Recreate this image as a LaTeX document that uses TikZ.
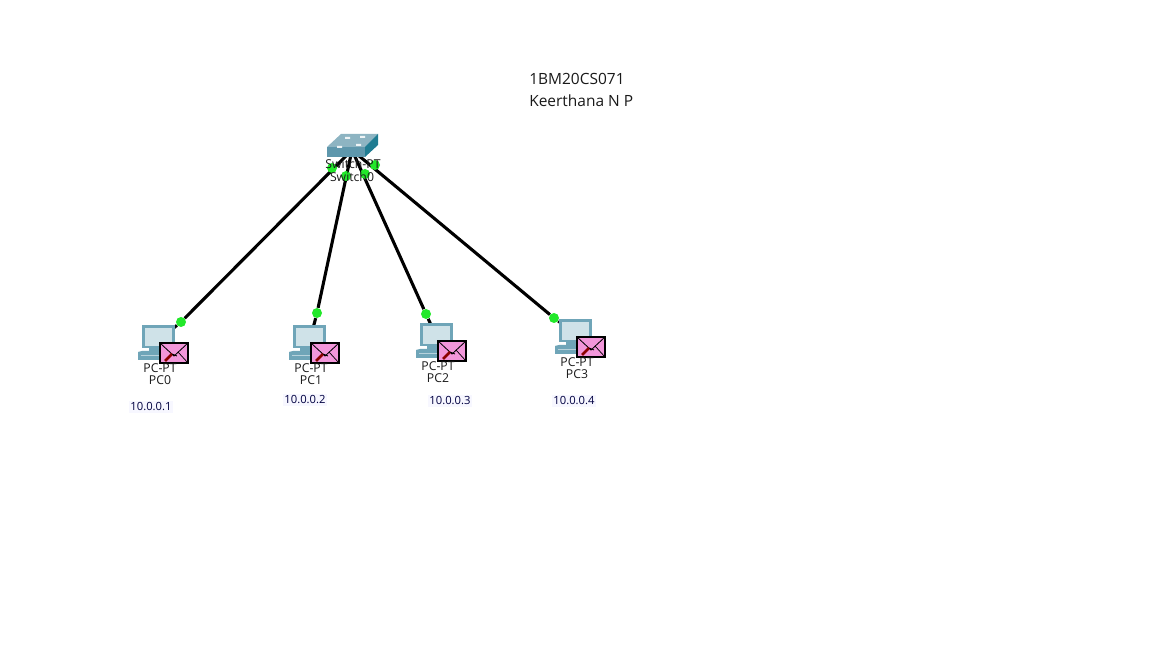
\documentclass[tikz,border=0pt]{standalone}
\usepackage{fontspec}
\setmainfont{Open Sans}
\usetikzlibrary{backgrounds}
\definecolor{linkgreen}{HTML}{22E82A}
\definecolor{mailpink}{HTML}{F296DA}
\definecolor{pcblue}{HTML}{6FA5B8}
\definecolor{pcscreen}{HTML}{CFE2E8}
\definecolor{swtop}{HTML}{8DB4C2}
\definecolor{swfront}{HTML}{5E97AC}
\definecolor{swside}{HTML}{1F7C92}

\begin{document}
\begin{tikzpicture}[x=0.025cm,y=-0.025cm]
    \tikzstyle{port}=[circle,fill=linkgreen,minimum size=0.25cm,inner sep=0pt]
    \tikzstyle{link}=[draw=black,line width=2.2pt]
    \tikzstyle{devlabel}=[font=\fontsize{8.7}{10}\selectfont,inner sep=0pt,text=black!90]
    \tikzstyle{iplabel}=[devlabel,font=\fontsize{8}{9}\selectfont,fill=blue!3,inner sep=1pt,text=blue!25!black]
    \tikzstyle{title}=[font=\fontsize{11}{12}\selectfont,anchor=west,inner sep=0pt,text=black!90]
    \tikzstyle{mail}=[draw=black,line width=0.8pt,fill=mailpink]

    \useasboundingbox (0,0) rectangle (1152,648);

    % Switch
    \fill[swtop] (327,147) -- (341,134) -- (378,134) -- (365,147) -- cycle;
    \fill[swfront] (327,147) rectangle (365,157);
    \fill[swside] (365,147) -- (378,134) -- (378,145) -- (365,157) -- cycle;
    \fill[white!85!swtop] (337,146) rectangle (342,148) (345,137) rectangle (350,139)
        (360,136) rectangle (365,138) (356,144) rectangle (361,146);
    \coordinate (Sw) at (352,150);

    % Ports on the switch side
    \foreach \name / \x / \y in {0/332/168,1/346/176,2/365/174,3/375/165}
        \node[port] (S-\name) at (\x,\y) {};

    % Draw the PCs, the corner of the envelope gives the place
    \foreach \name / \ex / \ey / \px / \py / \ipx / \ipy in
        {0/160/343/181/322/151/407,
         1/311/343/317/313/305/400,
         2/438/341/426/314/450/401,
         3/577/337/554/318/574/401}
    {
        \begin{scope}[shift={(\ex,\ey)}]
            \fill[pcblue] (-18,-18) rectangle (15,5);
            \fill[pcscreen] (-15,-15) rectangle (12,3);
            \fill[pcblue] (-11,5) rectangle (8,9);
            \fill[pcblue] (-22,9) -- (-18,8) -- (15,8) -- (17,17) -- (-22,17) -- cycle;
            \draw[white!50!pcblue] (-19,12) -- (15,12);
            \coordinate (M-\name) at (-1,-3);
        \end{scope}
        \node[port] (D-\name) at (\px,\py) {};
        \begin{pgfonlayer}{background}
            \draw[link] (Sw) -- (D-\name) -- (M-\name);
        \end{pgfonlayer}
        \begin{scope}[shift={(\ex,\ey)}]
            \draw[mail] (0,0) rectangle (28,20);
            \draw[black,line width=0.6pt] (0,0) -- (14,13) -- (28,0);
            \draw[black,line width=0.5pt] (28,20) -- (18,9);
            \draw[red!55!black,line width=2pt] (5,18) -- (12,11);
            \draw[black,line width=0.6pt] (12,11) -- (17,13);
        \end{scope}
        \node[devlabel] (L-\name) at (\ex,\ey+25) {PC-PT};
        \node[devlabel] (N-\name) at (\ex,\ey+37) {PC\name};
        \node[iplabel] (IP-\name) at (\ipx,\ipy) {10.0.0.\the\numexpr\name+1\relax};
    }

    % Annotate the switch
    \node[devlabel] (swtype) at (353,164) {Switch-PT};
    \node[devlabel] (swname) at (352,177) {Switch0};

    % Title
    \node[title] (t1) at (529,78.5) {1BM20CS071};
    \node[title] (t2) at (529,100.5) {Keerthana N P};
\end{tikzpicture}
\end{document}
